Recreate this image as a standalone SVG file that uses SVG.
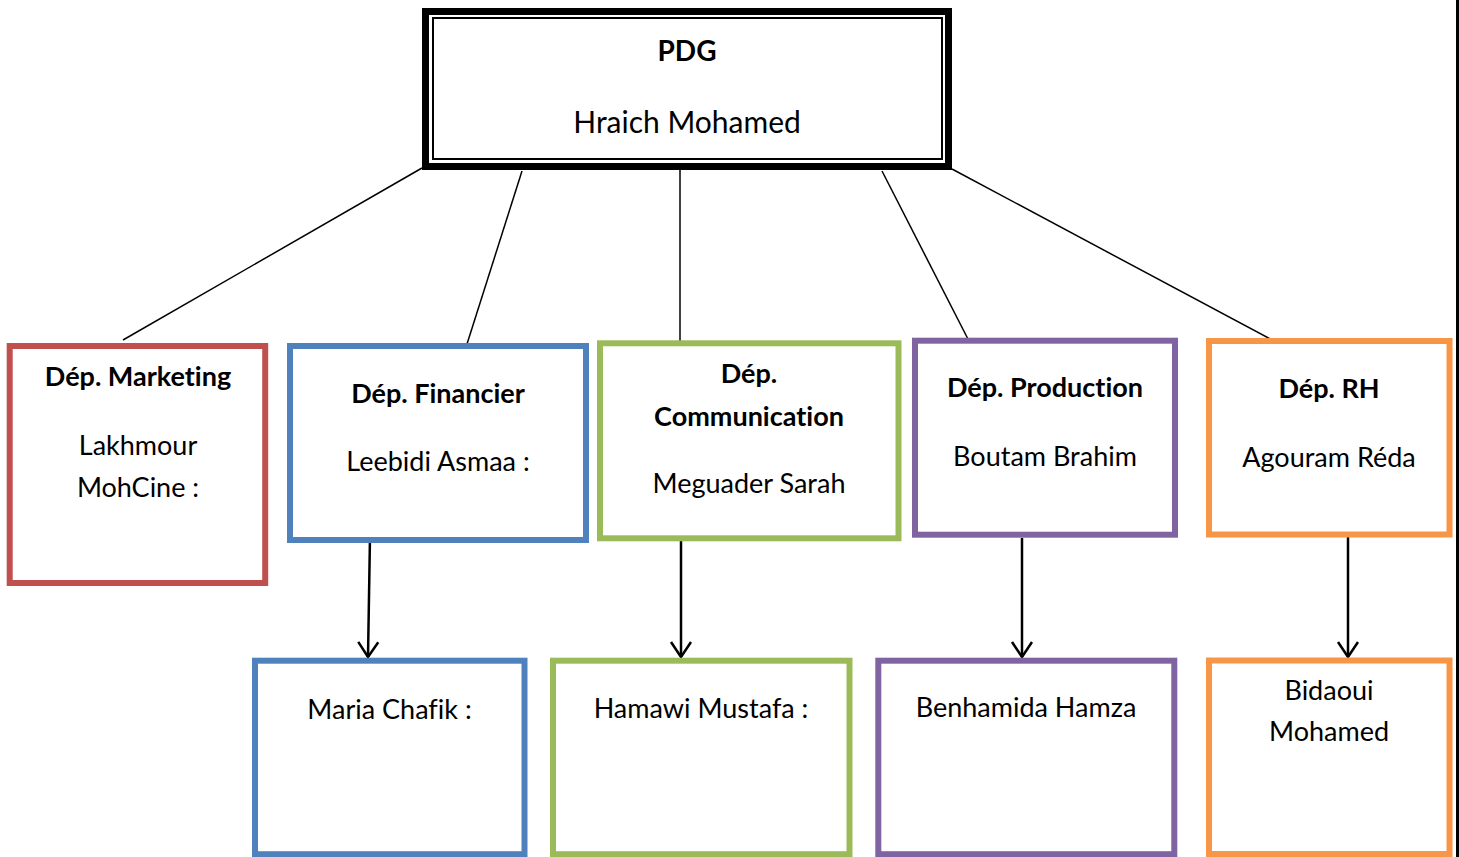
<svg xmlns="http://www.w3.org/2000/svg" width="1459" height="857" viewBox="0 0 1459 857">
<defs>
<style>
text{font-family:Lato,"Carlito","Liberation Sans",sans-serif;fill:#000;text-anchor:middle;font-variant-ligatures:none;font-feature-settings:"liga" 0,"clig" 0}
.t{font-size:27px}
.b{font-size:27px;font-weight:bold}
.tp{font-size:30px}
.bp{font-size:28px;font-weight:bold}
.box{fill:#fff;stroke-width:6}
.red{stroke:#C0504D}
.blue{stroke:#4F81BD}
.green{stroke:#9BBB59}
.purple{stroke:#8064A2}
.orange{stroke:#F79646}
.link{stroke:#000;stroke-width:1.5;fill:none}
.arrow{stroke:#000;stroke-width:2.5;fill:none;marker-end:url(#ah)}
</style>
<marker id="ah" markerUnits="userSpaceOnUse" markerWidth="30" markerHeight="30" refX="16" refY="12" orient="auto" viewBox="0 0 30 24">
<path d="M1,2 L16,12 L1,22" fill="none" stroke="#000" stroke-width="2.5"/>
</marker>
</defs>
<rect width="1459" height="857" fill="#fff"/>
<rect x="1456" y="0" width="3" height="857" fill="#000"/>
<g id="connectors">
<line class="link" x1="422" y1="168" x2="123" y2="340"/>
<line class="link" x1="522" y1="171" x2="467" y2="344"/>
<line class="link" x1="680" y1="160" x2="680" y2="341"/>
<line class="link" x1="882" y1="171" x2="970" y2="343"/>
<line class="link" x1="952" y1="169" x2="1274" y2="341"/>
<line class="arrow" x1="370" y1="536" x2="368" y2="657"/>
<line class="arrow" x1="681" y1="536" x2="681" y2="657"/>
<line class="arrow" x1="1022" y1="538" x2="1022" y2="657"/>
<line class="arrow" x1="1348" y1="537" x2="1348" y2="657"/>
</g>
<g id="pdg">
<rect x="425.5" y="11.5" width="523" height="155" fill="#fff" stroke="#000" stroke-width="7"/>
<rect x="433" y="18" width="509" height="141" fill="none" stroke="#000" stroke-width="2"/>
<text class="bp" x="687" y="61">PDG</text>
<text class="tp" x="687" y="133">Hraich Mohamed</text>
</g>
<g id="marketing">
<rect class="box red" x="9.7" y="346" width="255.5" height="237"/>
<text class="b" x="138" y="386">Dép. Marketing</text>
<text class="t" x="138" y="455">Lakhmour</text>
<text class="t" x="138" y="497">MohCine :</text>
</g>
<g id="financier">
<rect class="box blue" x="290" y="346" width="296" height="194"/>
<text class="b" x="438" y="403">Dép. Financier</text>
<text class="t" x="438" y="471">Leebidi Asmaa :</text>
</g>
<g id="communication">
<rect class="box green" x="600" y="343.3" width="298.5" height="195"/>
<text class="b" x="749" y="383">Dép.</text>
<text class="b" x="749" y="426">Communication</text>
<text class="t" x="749" y="493">Meguader Sarah</text>
</g>
<g id="production">
<rect class="box purple" x="915" y="340.7" width="260" height="194"/>
<text class="b" x="1045" y="397">Dép. Production</text>
<text class="t" x="1045" y="466">Boutam Brahim</text>
</g>
<g id="rh">
<rect class="box orange" x="1209" y="341" width="240.5" height="193.5"/>
<text class="b" x="1329" y="398">Dép. RH</text>
<text class="t" x="1329" y="467">Agouram Réda</text>
</g>
<g id="maria">
<rect class="box blue" x="255" y="660.7" width="269.5" height="193.5"/>
<text class="t" x="389.5" y="719">Maria Chafik :</text>
</g>
<g id="hamawi">
<rect class="box green" x="553" y="660.7" width="296.5" height="193.5"/>
<text class="t" x="701" y="718">Hamawi Mustafa :</text>
</g>
<g id="benhamida">
<rect class="box purple" x="878.3" y="660.7" width="296" height="193.5"/>
<text class="t" x="1026" y="717">Benhamida Hamza</text>
</g>
<g id="bidaoui">
<rect class="box orange" x="1209" y="660.5" width="240.5" height="193.5"/>
<text class="t" x="1329" y="700">Bidaoui</text>
<text class="t" x="1329" y="741">Mohamed</text>
</g>
</svg>
